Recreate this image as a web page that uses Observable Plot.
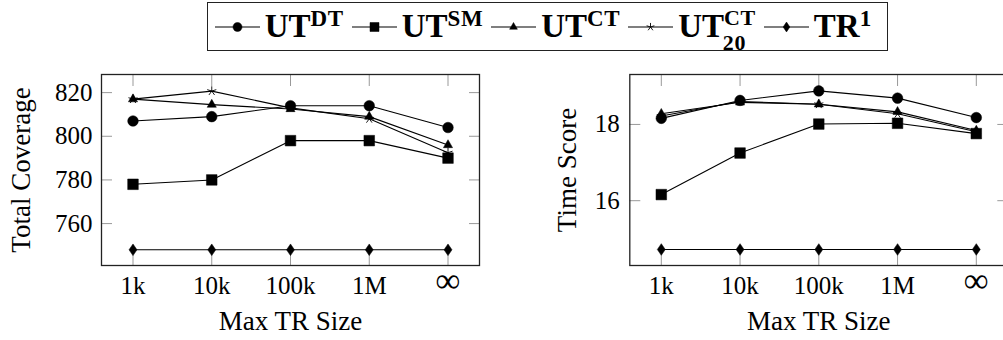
<!DOCTYPE html>
<html>
<head>
<meta charset="utf-8">
<script src="https://cdn.jsdelivr.net/npm/d3@7"></script>
<script src="https://cdn.jsdelivr.net/npm/@observablehq/plot@0.6"></script>
<style>
html, body { margin: 0; padding: 0; background: #fff; overflow: hidden; width: 1003px; height: 340px; }
#wrap { position: relative; width: 1003px; height: 340px; overflow: hidden; font-family: "Liberation Serif", "Times New Roman", "DejaVu Serif", serif; }
#left { position: absolute; left: 0; top: 0; width: 482px; height: 340px; }
#right { position: absolute; left: 500px; top: 0; width: 510px; height: 340px; }
#left svg text, #right svg text { font-family: "Liberation Serif", "Times New Roman", "DejaVu Serif", serif; }
#legend { position: absolute; left: 207px; top: 2px; width: 681px; height: 49px; box-sizing: border-box;
  border: 1.3px solid #222; background: #fff; display: flex; align-items: center; padding-left: 6.7px; }
.item { display: flex; align-items: center; margin-right: 8px; }
.item svg { display: block; margin-right: 5px; }
.lab { font-family: "Liberation Serif", "Times New Roman", "DejaVu Serif", serif; font-weight: bold; font-size: 33px; line-height: 47px; white-space: nowrap; }
.lab sup { font-size: 23px; vertical-align: 11px; line-height: 0; letter-spacing: 0.6px; }
.lab sub.stack { font-size: 22px; vertical-align: -13px; line-height: 0; display: inline-block; letter-spacing: 0.6px; margin-left: -33px; width: 33px; }
.lab sup.stack { vertical-align: 12px; font-size: 22px; }
</style>
</head>
<body>
<div id="wrap">
  <div id="left"></div>
  <div id="right"></div>
  <div id="legend"></div>
</div>
<script>
// ---- data ----
const sizes = ["1k", "10k", "100k", "1M", "∞"];
const seriesKeys = ["DT", "SM", "CT", "CT20", "TR"];
const legendBase = ["UT", "UT", "UT", "UT", "TR"];
const legendSup = ["DT", "SM", "CT", "CT", "1"];
const legendSub = ["", "", "", "20", ""];

const coverageDT   = [807, 809, 814, 814, 804];
const coverageSM   = [778, 780, 798, 798, 790];
const coverageCT   = [817, 814.5, 812.5, 809, 796];
const coverageCT20 = [817, 820.7, 813, 808, 792.5];
const coverageTR   = [748, 748, 748, 748, 748];

const timeDT   = [18.16, 18.63, 18.88, 18.69, 18.18];
const timeSM   = [16.16, 17.25, 18.01, 18.03, 17.76];
const timeCT   = [18.28, 18.58, 18.53, 18.33, 17.84];
const timeCT20 = [18.22, 18.60, 18.53, 18.28, 17.81];
const timeTR   = [14.72, 14.72, 14.72, 14.72, 14.72];

const coverageTicks = [760, 780, 800, 820];
const timeTicks = [16, 18];
const xLabel = "Max TR Size";
const coverageLabel = "Total Coverage";
const timeLabel = "Time Score";

// ---- marker shapes ----
const symCircle = { draw(ctx, size) { const r = Math.sqrt(size / Math.PI); ctx.moveTo(r, 0); ctx.arc(0, 0, r, 0, 2 * Math.PI); ctx.closePath(); } };
const symSquare = { draw(ctx, size) { const r = Math.sqrt(size / Math.PI); ctx.moveTo(-r, -r); ctx.lineTo(r, -r); ctx.lineTo(r, r); ctx.lineTo(-r, r); ctx.closePath(); } };
const symTriangle = { draw(ctx, size) { const r = Math.sqrt(size / Math.PI); ctx.moveTo(0, -r); ctx.lineTo(0.866 * r, 0.5 * r); ctx.lineTo(-0.866 * r, 0.5 * r); ctx.closePath(); } };
const symStar = { draw(ctx, size) { const r = Math.sqrt(size / Math.PI) * 0.9;
  for (let k = 0; k < 5; k++) { const a = -Math.PI / 2 + k * 2 * Math.PI / 5; ctx.moveTo(0, 0); ctx.lineTo(r * Math.cos(a), r * Math.sin(a)); } } };
const symDiamond = { draw(ctx, size) { const r = Math.sqrt(size / Math.PI); ctx.moveTo(0, -1.1 * r); ctx.lineTo(0.75 * r, 0); ctx.lineTo(0, 1.1 * r); ctx.lineTo(-0.75 * r, 0); ctx.closePath(); } };

const styles = {
  DT:   { symbol: symCircle,   fill: "black", sw: 0.5 },
  SM:   { symbol: symSquare,   fill: "black", sw: 0.5 },
  CT:   { symbol: symTriangle, fill: "black", sw: 0.5 },
  CT20: { symbol: symStar,     fill: "none",  sw: 0.9 },
  TR:   { symbol: symDiamond,  fill: "black", sw: 0.5 }
};

const idx = d3.range(sizes.length);
const R = 5.3;
const FONT = "'Liberation Serif', 'Times New Roman', 'DejaVu Serif', serif";

function panel(seriesValues, yDomain, yTicks, yLabel, opts) {
  const marks = [
    Plot.axisY(yTicks, { anchor: "left", tickSize: -11, tickPadding: opts.yPad, stroke: "#999", fill: "black", fontSize: 25, label: null }),
    Plot.axisY(yTicks, { anchor: "right", tickSize: -11, stroke: "#999", tickFormat: () => "", label: null }),
    Plot.axisX(idx.slice(0, 4), { anchor: "bottom", tickSize: -11, tickPadding: 22, stroke: "#999", fill: "black", fontSize: 25, tickFormat: i => sizes[i], label: null }),
    Plot.axisX(idx.slice(4), { anchor: "bottom", tickSize: -11, tickPadding: 13, stroke: "#999", fill: "black", fontSize: 35, tickFormat: i => sizes[i], label: null }),
    Plot.axisX(idx, { anchor: "top", tickSize: -11, stroke: "#999", tickFormat: () => "", label: null })
  ];
  seriesKeys.forEach((k, j) => {
    const vals = seriesValues[j];
    const st = styles[k];
    marks.push(Plot.line(idx, { x: i => i, y: i => vals[i], stroke: "black", strokeWidth: 1.1 }));
    marks.push(Plot.dot(idx, { x: i => i, y: i => vals[i], symbol: st.symbol, r: R, fill: st.fill, stroke: "black", strokeWidth: st.sw }));
  });
  marks.push(Plot.frame({ stroke: "#222", strokeWidth: 1.3 }));
  marks.push(Plot.text([yLabel], { frameAnchor: "left", textAnchor: "middle", rotate: -90, dx: opts.labelDx, fontSize: 27, lineAnchor: "middle", fill: "black" }));
  marks.push(Plot.text([xLabel], { frameAnchor: "bottom", textAnchor: "middle", dy: 56, fontSize: 27, lineAnchor: "middle", fill: "black" }));
  return Plot.plot({
    width: opts.width, height: 340,
    marginLeft: opts.marginLeft, marginRight: opts.marginRight, marginTop: 74, marginBottom: 75,
    style: { fontFamily: FONT, background: "white", color: "black", overflow: "visible" },
    x: { type: "linear", domain: [-0.4, 4.4] },
    y: { type: "linear", domain: yDomain },
    marks
  });
}

document.getElementById("left").appendChild(panel(
  [coverageDT, coverageSM, coverageCT, coverageCT20, coverageTR],
  [740.8, 828.3], coverageTicks, coverageLabel,
  { width: 482, marginLeft: 101, marginRight: 3, yPad: 20, labelDx: -80 }
));
document.getElementById("right").appendChild(panel(
  [timeDT, timeSM, timeCT, timeCT20, timeTR],
  [14.30, 19.31], timeTicks, timeLabel,
  { width: 510, marginLeft: 129.3, marginRight: 2.7, yPad: 21, labelDx: -62 }
));

// ---- legend ----
const legend = document.getElementById("legend");
seriesKeys.forEach((k, j) => {
  const st = styles[k];
  const rL = 4.5;
  const path = d3.symbol(st.symbol, rL * rL * Math.PI)();
  const item = document.createElement("div");
  item.className = "item";
  const stacked = !!legendSub[j];
  const sup = `<sup${stacked ? ' class="stack"' : ""}>${legendSup[j]}</sup>`;
  const sub = stacked ? `<sub class="stack">${legendSub[j]}</sub>` : "";
  item.innerHTML =
    `<svg width="45" height="20" viewBox="-22.5 -10 45 20">` +
    `<line x1="-22.5" x2="22.5" y1="0" y2="0" stroke="black" stroke-width="1.1"/>` +
    `<path d="${path}" fill="${st.fill}" stroke="black" stroke-width="${st.sw}"/></svg>` +
    `<span class="lab">${legendBase[j]}${sup}${sub}</span>`;
  legend.appendChild(item);
});
</script>
</body>
</html>
